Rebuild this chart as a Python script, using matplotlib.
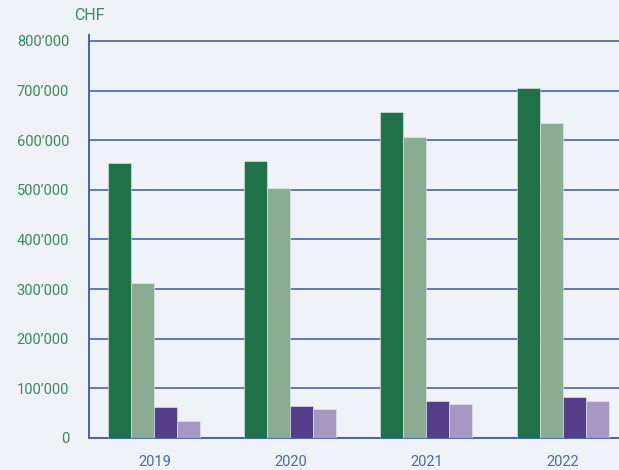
import matplotlib
matplotlib.use("Agg")
import matplotlib.pyplot as plt
import numpy as np

plt.rcParams['font.family'] = ['Roboto', 'DejaVu Sans']

years = ['2019', '2020', '2021', '2022']
dark_green = [554000, 558000, 657000, 705000]
light_green = [312000, 504000, 607000, 634000]
dark_purple = [62000, 64000, 74000, 82000]
light_purple = [34000, 58000, 68000, 74000]
yticks = [0, 100000, 200000, 300000, 400000, 500000, 600000, 700000, 800000]
ytick_labels = ['0', '100’000', '200’000', '300’000', '400’000',
                '500’000', '600’000', '700’000', '800’000']

bg = '#eff3f7'
grid_col = '#4a62ad'

fig = plt.figure(figsize=(6.19, 4.70), dpi=100, facecolor=bg)
ax = fig.add_axes([0.1438, 0.0681, 0.8562, 0.8574])
ax.set_facecolor(bg)

x = np.arange(len(years))
w = 0.169
series = [dark_green, light_green, dark_purple, light_purple]
colors = ['#1e7148', '#8aad93', '#553f8a', '#a697c3']
for i, (vals, c) in enumerate(zip(series, colors)):
    ax.bar(x + (i - 1.5) * w, vals, width=w, color=c, edgecolor='#e6ebef',
           linewidth=0.4, zorder=3)

ax.set_ylim(0, 812000)
ax.set_xlim(-0.48, 3.415)
ax.set_yticks(yticks)
ax.set_yticklabels(ytick_labels)
ax.set_xticks(x)
ax.set_xticklabels(years)
ax.yaxis.grid(True, color=grid_col, linewidth=1.2, zorder=0)
ax.set_axisbelow(True)

for s in ['top', 'right']:
    ax.spines[s].set_visible(False)
for s in ['left', 'bottom']:
    ax.spines[s].set_color(grid_col)
    ax.spines[s].set_linewidth(1.4)

ax.tick_params(axis='y', length=0, pad=14.4, labelsize=10.5, labelcolor='#3a8a5f')
ax.tick_params(axis='x', length=0, pad=12, labelsize=10.5, labelcolor='#4a6aaa')

fig.text(74 / 619, 1 - 16 / 470, 'CHF', fontsize=11.5, color='#3a8a5f',
         ha='left', va='center')

fig.savefig('out.png', dpi=100, facecolor=bg)
